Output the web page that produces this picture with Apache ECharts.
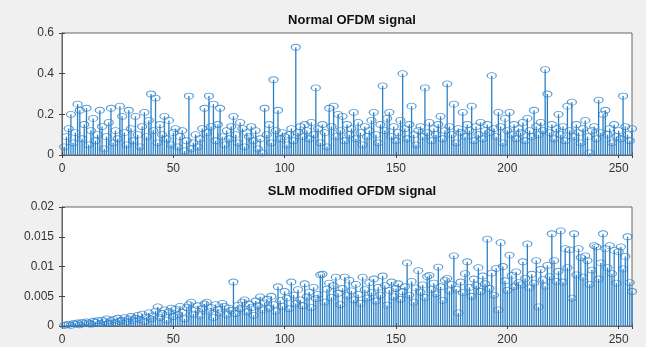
<!DOCTYPE html>
<html>
<head>
<meta charset="utf-8">
<script src="https://cdn.jsdelivr.net/npm/echarts@6/dist/echarts.min.js"></script>
<style>
  html, body { margin: 0; padding: 0; background: #f0f0f0; }
  #chart { width: 646px; height: 347px; }
</style>
</head>
<body>
<div id="chart"></div>
<script>
// sample magnitudes, index 1..256
const normalSignal = [
  0.04, 0.09, 0.13, 0.20, 0.06, 0.11, 0.25, 0.22, 0.08, 0.15,
  0.23, 0.05, 0.12, 0.18, 0.07, 0.10, 0.22, 0.14, 0.03, 0.09,
  0.16, 0.23, 0.06, 0.12, 0.08, 0.24, 0.19, 0.11, 0.05, 0.22,
  0.13, 0.07, 0.19, 0.10, 0.04, 0.14, 0.21, 0.09, 0.17, 0.30,
  0.12, 0.28, 0.06, 0.15, 0.10, 0.19, 0.08, 0.17, 0.05, 0.11,
  0.13, 0.04, 0.09, 0.12, 0.02, 0.07, 0.29, 0.03, 0.06, 0.10,
  0.04, 0.08, 0.13, 0.23, 0.11, 0.29, 0.14, 0.25, 0.07, 0.15,
  0.23, 0.09, 0.05, 0.12, 0.08, 0.14, 0.19, 0.10, 0.06, 0.16,
  0.13, 0.04, 0.11, 0.09, 0.14, 0.07, 0.12, 0.03, 0.08, 0.01,
  0.23, 0.10, 0.15, 0.06, 0.37, 0.12, 0.22, 0.08, 0.11, 0.09,
  0.05, 0.10, 0.13, 0.07, 0.53, 0.11, 0.14, 0.09, 0.15, 0.12,
  0.08, 0.16, 0.10, 0.33, 0.13, 0.06, 0.15, 0.11, 0.04, 0.23,
  0.14, 0.24, 0.09, 0.20, 0.12, 0.19, 0.07, 0.15, 0.10, 0.13,
  0.21, 0.08, 0.16, 0.11, 0.05, 0.14, 0.09, 0.12, 0.17, 0.21,
  0.10, 0.06, 0.15, 0.34, 0.12, 0.18, 0.21, 0.09, 0.14, 0.07,
  0.11, 0.17, 0.40, 0.13, 0.08, 0.15, 0.24, 0.10, 0.05, 0.12,
  0.14, 0.09, 0.33, 0.11, 0.16, 0.07, 0.13, 0.10, 0.15, 0.19,
  0.08, 0.12, 0.35, 0.14, 0.10, 0.25, 0.06, 0.13, 0.11, 0.21,
  0.09, 0.15, 0.12, 0.24, 0.07, 0.14, 0.10, 0.16, 0.08, 0.12,
  0.15, 0.11, 0.39, 0.13, 0.09, 0.21, 0.14, 0.06, 0.18, 0.12,
  0.21, 0.10, 0.15, 0.08, 0.13, 0.11, 0.16, 0.07, 0.18, 0.12,
  0.09, 0.22, 0.14, 0.10, 0.16, 0.12, 0.42, 0.30, 0.11, 0.15,
  0.08, 0.13, 0.20, 0.10, 0.14, 0.07, 0.24, 0.12, 0.26, 0.09,
  0.15, 0.11, 0.06, 0.13, 0.17, 0.09, 0.01, 0.12, 0.14, 0.08,
  0.27, 0.11, 0.20, 0.22, 0.10, 0.13, 0.06, 0.15, 0.09, 0.12,
  0.08, 0.29, 0.14, 0.10, 0.07, 0.13
];

const slmSignal = [
  0.0001, 0.0002, 0.0003, 0.0001, 0.0004, 0.0003, 0.0005, 0.0002, 0.0006, 0.0004,
  0.0007, 0.0005, 0.0003, 0.0008, 0.0006, 0.0009, 0.0004, 0.0010, 0.0007, 0.0012,
  0.0005, 0.0009, 0.0011, 0.0006, 0.0013, 0.0008, 0.0010, 0.0014, 0.0007, 0.0012,
  0.0016, 0.0009, 0.0013, 0.0018, 0.0011, 0.0020, 0.0008, 0.0015, 0.0022, 0.0012,
  0.0017, 0.0025, 0.0032, 0.0014, 0.0021, 0.0027, 0.0010, 0.0024, 0.0030, 0.0016,
  0.0028, 0.0019, 0.0033, 0.0023, 0.0012, 0.0031, 0.0036, 0.0040, 0.0020, 0.0027,
  0.0034, 0.0017, 0.0029, 0.0037, 0.0040, 0.0025, 0.0031, 0.0014, 0.0036, 0.0028,
  0.0022, 0.0038, 0.0033, 0.0019, 0.0030, 0.0026, 0.0074, 0.0021, 0.0035, 0.0029,
  0.0040, 0.0044, 0.0024, 0.0037, 0.0031, 0.0018, 0.0042, 0.0034, 0.0049, 0.0027,
  0.0039, 0.0045, 0.0030, 0.0050, 0.0036, 0.0025, 0.0066, 0.0043, 0.0033, 0.0058,
  0.0047, 0.0029, 0.0074, 0.0052, 0.0038, 0.0061, 0.0044, 0.0034, 0.0071, 0.0049,
  0.0057, 0.0031, 0.0065, 0.0046, 0.0053, 0.0086, 0.0087, 0.0040, 0.0062, 0.0072,
  0.0048, 0.0068, 0.0082, 0.0055, 0.0036, 0.0063, 0.0082, 0.0051, 0.0077, 0.0059,
  0.0044, 0.0070, 0.0053, 0.0038, 0.0082, 0.0061, 0.0047, 0.0073, 0.0056, 0.0079,
  0.0042, 0.0065, 0.0052, 0.0084, 0.0068, 0.0035, 0.0060, 0.0074, 0.0049, 0.0063,
  0.0071, 0.0045, 0.0058, 0.0066, 0.0106, 0.0052, 0.0075, 0.0040, 0.0064, 0.0093,
  0.0057, 0.0069, 0.0048, 0.0083, 0.0085, 0.0061, 0.0072, 0.0054, 0.0099, 0.0066,
  0.0043, 0.0077, 0.0080, 0.0059, 0.0070, 0.0118, 0.0062, 0.0022, 0.0074, 0.0056,
  0.0088, 0.0108, 0.0065, 0.0050, 0.0079, 0.0068, 0.0098, 0.0058, 0.0084, 0.0071,
  0.0146, 0.0063, 0.0089, 0.0052, 0.0097, 0.0027, 0.0140, 0.0100, 0.0076, 0.0060,
  0.0119, 0.0085, 0.0066, 0.0091, 0.0073, 0.0069, 0.0108, 0.0080, 0.0138, 0.0064,
  0.0087, 0.0072, 0.0110, 0.0032, 0.0095, 0.0078, 0.0067, 0.0102, 0.0083, 0.0155,
  0.0110, 0.0075, 0.0092, 0.0160, 0.0074, 0.0130, 0.0098, 0.0128, 0.0047, 0.0155,
  0.0086, 0.0130, 0.0115, 0.0082, 0.0118, 0.0110, 0.0070, 0.0094, 0.0135, 0.0133,
  0.0079, 0.0106, 0.0155, 0.0130, 0.0098, 0.0135, 0.0088, 0.0127, 0.0072, 0.0125,
  0.0133, 0.0096, 0.0117, 0.0150, 0.0073, 0.0058
];

const xTicks = [0, 50, 100, 150, 200, 250];
const titles = ['Normal OFDM signal', 'SLM modified OFDM signal'];

const stemColor = '#2a80c8';
const fontFamily = 'Liberation Sans, Arial, sans-serif';

const toPoints = (arr) => arr.map((v, i) => [i + 1, v]);

const tickStyle = { show: true, inside: true, length: 3, lineStyle: { color: '#444' } };

function xAxisFor(gridIndex, mirror) {
  return {
    type: 'value',
    gridIndex,
    position: mirror ? 'top' : 'bottom',
    min: 0,
    max: 256,
    interval: 50,
    axisLine: { show: true, lineStyle: { color: '#666' } },
    axisTick: tickStyle,
    axisLabel: {
      show: !mirror,
      color: '#333', fontSize: 12, fontFamily, margin: 8,
      formatter: (v) => (xTicks.includes(v) ? String(v) : '')
    },
    splitLine: { show: false }
  };
}

function yAxisFor(gridIndex, max, interval, mirror) {
  return {
    type: 'value',
    gridIndex,
    position: mirror ? 'right' : 'left',
    min: 0,
    max,
    interval,
    axisLine: { show: true, lineStyle: { color: '#666' } },
    axisTick: tickStyle,
    axisLabel: { show: !mirror, color: '#333', fontSize: 12, fontFamily, margin: 8 },
    splitLine: { show: false }
  };
}

function stems(gridIndex, arr) {
  return [
    {
      type: 'bar',
      xAxisIndex: gridIndex,
      yAxisIndex: gridIndex,
      barWidth: 1.3,
      itemStyle: { color: stemColor },
      silent: true,
      data: toPoints(arr)
    },
    {
      type: 'scatter',
      xAxisIndex: gridIndex,
      yAxisIndex: gridIndex,
      symbol: 'circle',
      symbolSize: [9, 6],
      itemStyle: { color: 'transparent', borderColor: stemColor, borderWidth: 1 },
      silent: true,
      data: toPoints(arr)
    }
  ];
}

const chart = echarts.init(document.getElementById('chart'));
chart.setOption({
  backgroundColor: '#f0f0f0',
  animation: false,
  title: [
    { text: titles[0], left: 347, top: 9, textAlign: 'center',
      textStyle: { fontSize: 13, fontWeight: 'bold', color: '#111', fontFamily } },
    { text: titles[1], left: 347, top: 180, textAlign: 'center',
      textStyle: { fontSize: 13, fontWeight: 'bold', color: '#111', fontFamily } }
  ],
  grid: [
    { left: 62, right: 14, top: 33, height: 122, show: true, backgroundColor: '#fff', borderColor: '#666', borderWidth: 1 },
    { left: 62, right: 14, top: 207, height: 119, show: true, backgroundColor: '#fff', borderColor: '#666', borderWidth: 1 }
  ],
  xAxis: [xAxisFor(0, false), xAxisFor(1, false), xAxisFor(0, true), xAxisFor(1, true)],
  yAxis: [
    yAxisFor(0, 0.6, 0.2, false), yAxisFor(1, 0.02, 0.005, false),
    yAxisFor(0, 0.6, 0.2, true), yAxisFor(1, 0.02, 0.005, true)
  ],
  series: [...stems(0, normalSignal), ...stems(1, slmSignal)]
});
</script>
</body>
</html>
